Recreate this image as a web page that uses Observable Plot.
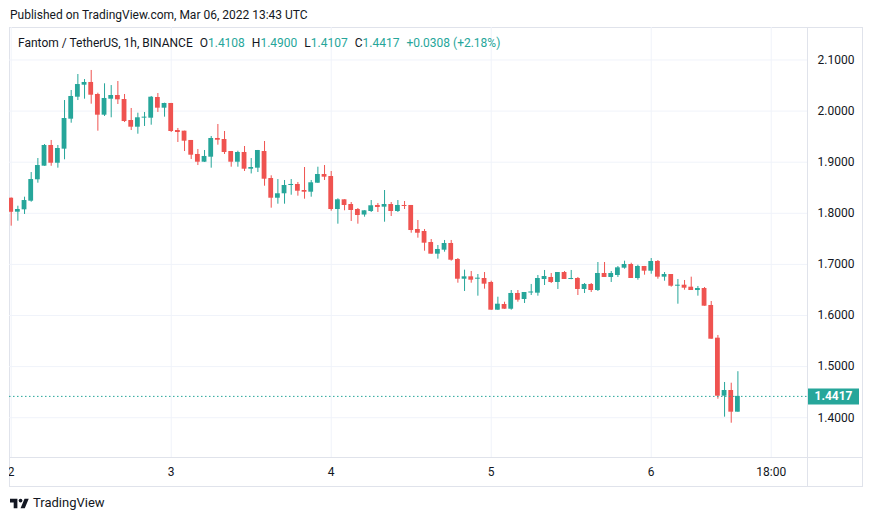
<!DOCTYPE html>
<html>
<head>
<meta charset="utf-8">
<script src="https://cdn.jsdelivr.net/npm/d3@7"></script>
<script src="https://cdn.jsdelivr.net/npm/@observablehq/plot@0.6"></script>
<style>
  html, body { margin: 0; padding: 0; background: #fff; }
  body { width: 873px; height: 521px; position: relative; overflow: hidden;
         font-family: Roboto, "Noto Sans", sans-serif; color: #131722; }
  .abs { position: absolute; }
  #pub { left: 10px; top: 7px; font-size: 12px; line-height: 16px; white-space: nowrap; }
  #frame { left: 9px; top: 27px; width: 854px; height: 460px; box-sizing: border-box; border: 1px solid #e0e3eb; }
  #legend { left: 18px; top: 35px; font-size: 12px; line-height: 16px; white-space: nowrap; }
  #legend .v { color: #26a69a; }
  #legend .k { margin-left: 7px; }
  #chart { left: 9px; top: 27px; }
  #chart svg { overflow: hidden; }
  #hline { left: 9px; top: 457px; width: 853px; height: 1px; background: #e0e3eb; }
  #vline { left: 807px; top: 27px; width: 1px; height: 459px; background: #e0e3eb; }
  #foot { left: 10px; top: 495px; font-size: 13px; line-height: 16px; white-space: nowrap; display: flex; align-items: center; }
  #foot svg { margin-right: 4px; }
</style>
</head>
<body>
<div id="pub" class="abs">Published on TradingView.com, Mar 06, 2022 13:43 UTC</div>
<div id="frame" class="abs"></div>
<div id="chart" class="abs"></div>
<div id="hline" class="abs"></div>
<div id="vline" class="abs"></div>
<div id="legend" class="abs"></div>
<div id="foot" class="abs"><svg width="19" height="13" viewBox="0 2 36 22"><path d="M14 22H7V11H0V4h14v18zM28 22h-8l7.5-18h8L28 22z" fill="#131722"/><circle cx="20" cy="7.5" r="3.5" fill="#131722"/></svg>TradingView</div>
<script>
// ---- Data: FTM/USDT 1h candles, Mar 2 00:00 UTC .. Mar 6 13:00 UTC ----
const symbolTitle = "Fantom / TetherUS, 1h, BINANCE";
const startHour = Date.UTC(2022, 2, 2, 0);
const open = [
  1.8295,1.8022,1.8068,1.8237,1.8656,1.8922,1.9327,1.8980,1.9255,1.9842,
  2.0272,2.0507,2.0560,2.0325,1.9920,2.0233,2.0305,2.0227,1.9816,1.9685,
  1.9862,1.9861,2.0266,2.0057,2.0149,1.9620,1.9607,1.9425,1.9151,1.9000,
  1.9098,1.9464,1.9444,1.9209,1.9000,1.9190,1.8863,1.8883,1.9209,1.8681,
  1.8295,1.8382,1.8544,1.8564,1.8446,1.8413,1.8589,1.8759,1.8720,1.8074,
  1.8264,1.8172,1.8074,1.7966,1.8035,1.8153,1.8120,1.8172,1.8035,1.8153,
  1.8153,1.7683,1.7644,1.7428,1.7200,1.7278,1.7409,1.7096,1.6710,1.6757,
  1.6710,1.6724,1.6646,1.6104,1.6215,1.6123,1.6431,1.6313,1.6440,1.6437,
  1.6704,1.6744,1.6646,1.6841,1.6705,1.6724,1.6509,1.6607,1.6489,1.6822,
  1.6744,1.6783,1.6926,1.6998,1.6724,1.6959,1.6867,1.7057,1.6750,1.6802,
  1.6573,1.6593,1.6554,1.6489,1.6528,1.6196,1.5556,1.4421,1.4532,1.4108
];
const high = [
  1.8300,1.8139,1.8315,1.8798,1.9072,1.9346,1.9425,1.9327,2.0207,2.0403,
  2.0716,2.0618,2.0795,2.0350,2.0534,2.0500,2.0579,2.0325,2.0051,1.9959,
  1.9973,2.0286,2.0344,2.0155,2.0150,1.9660,1.9607,1.9425,1.9249,1.9229,
  1.9503,1.9738,1.9601,1.9210,1.9215,1.9307,1.9072,1.9230,1.9405,1.8734,
  1.8661,1.8642,1.8661,1.8603,1.8896,1.8642,1.8902,1.8935,1.8818,1.8284,
  1.8264,1.8211,1.8094,1.8050,1.8250,1.8192,1.8446,1.8211,1.8250,1.8231,
  1.8153,1.7859,1.7683,1.7487,1.7370,1.7468,1.7468,1.7115,1.6887,1.6861,
  1.6802,1.6841,1.6671,1.6358,1.6260,1.6489,1.6489,1.6450,1.6607,1.6783,
  1.6881,1.6822,1.6841,1.6861,1.6881,1.6744,1.6626,1.6626,1.7037,1.7037,
  1.6861,1.6959,1.7063,1.7023,1.6984,1.6960,1.7115,1.7076,1.6841,1.6802,
  1.6705,1.6685,1.6750,1.6568,1.6548,1.6274,1.5609,1.4689,1.4675,1.4900
];
const low = [
  1.7748,1.7845,1.7977,1.8217,1.8589,1.8920,1.8920,1.8883,1.9047,1.9763,
  2.0207,2.0233,2.0135,1.9607,1.9894,1.9869,2.0129,1.9777,1.9620,1.9548,
  1.9699,1.9724,1.9973,1.9881,1.9581,1.9386,1.9209,1.9053,1.8935,1.8995,
  1.8883,1.9333,1.9151,1.8902,1.8902,1.8818,1.8770,1.8798,1.8530,1.8100,
  1.8178,1.8178,1.8354,1.8335,1.8276,1.8315,1.8585,1.8642,1.8041,1.7787,
  1.8049,1.7840,1.7787,1.7924,1.8016,1.8016,1.7826,1.7937,1.8016,1.8074,
  1.7610,1.7513,1.7258,1.7200,1.7102,1.7239,1.7063,1.6632,1.6470,1.6632,
  1.6378,1.6515,1.6100,1.6100,1.6120,1.6104,1.6260,1.6235,1.6391,1.6378,
  1.6587,1.6626,1.6509,1.6705,1.6700,1.6391,1.6430,1.6450,1.6470,1.6744,
  1.6646,1.6744,1.6906,1.6724,1.6691,1.6789,1.6808,1.6710,1.6671,1.6554,
  1.6221,1.6495,1.6489,1.6378,1.6182,1.5536,1.4362,1.4010,1.3892,1.4107
];
const close = [
  1.8020,1.8074,1.8250,1.8661,1.8935,1.9327,1.8980,1.9268,1.9855,2.0286,
  2.0520,2.0560,2.0311,1.9920,2.0247,2.0305,2.0221,1.9796,1.9685,1.9869,
  1.9882,2.0272,2.0057,2.0149,1.9601,1.9581,1.9411,1.9137,1.9000,1.9112,
  1.9464,1.9430,1.9190,1.9000,1.9190,1.8863,1.8896,1.9229,1.8667,1.8295,
  1.8382,1.8544,1.8564,1.8432,1.8413,1.8597,1.8759,1.8707,1.8074,1.8264,
  1.8153,1.8055,1.7957,1.8049,1.8147,1.8114,1.8172,1.8035,1.8153,1.8133,
  1.7663,1.7610,1.7415,1.7200,1.7292,1.7409,1.7082,1.6710,1.6757,1.6691,
  1.6730,1.6613,1.6104,1.6221,1.6123,1.6431,1.6299,1.6450,1.6460,1.6724,
  1.6763,1.6646,1.6841,1.6705,1.6724,1.6509,1.6607,1.6489,1.6822,1.6744,
  1.6822,1.6933,1.6998,1.6724,1.6959,1.6867,1.7057,1.6750,1.6802,1.6573,
  1.6593,1.6534,1.6489,1.6528,1.6182,1.5536,1.4421,1.4532,1.4108,1.4417
];
const yTickValues = [1.4, 1.5, 1.6, 1.7, 1.8, 1.9, 2.0, 2.1];
const xTickValues = [
  new Date(Date.UTC(2022, 2, 2)), new Date(Date.UTC(2022, 2, 3)),
  new Date(Date.UTC(2022, 2, 4)), new Date(Date.UTC(2022, 2, 5)),
  new Date(Date.UTC(2022, 2, 6)), new Date(Date.UTC(2022, 2, 6, 18))
];
const legendValues = {O: "1.4108", H: "1.4900", L: "1.4107", C: "1.4417", change: "+0.0308 (+2.18%)"};

// ---- Build ----
const UP = "#26a69a", DOWN = "#ef5350", GRID = "#f0f3fa";
const HOUR = 3600e3;
const candles = open.map((o, i) => ({
  t: new Date(startHour + i * HOUR), o, h: high[i], l: low[i], c: close[i]
}));
const ups = candles.filter(d => d.c >= d.o);
const downs = candles.filter(d => d.c < d.o);
const last = candles[candles.length - 1];

// visible window of the pane
const xDomain = [new Date(startHour - 0.255 * HOUR), new Date(startHour + 119.44 * HOUR)];
const yDomain = [1.3221, 2.1636];
const half = 0.36 * HOUR;

const rectSymbol = { draw(ctx) { ctx.rect(-25.5, -8, 51, 16); } };

const chart = Plot.plot({
  width: 853,
  height: 459,
  marginLeft: 0,
  marginRight: 55,
  marginTop: 0,
  marginBottom: 29,
  style: { fontFamily: 'Roboto, "Noto Sans", sans-serif', fontSize: "12px", color: "#131722", background: "transparent", overflow: "hidden" },
  x: {
    type: "utc", domain: xDomain, axis: "bottom", ticks: xTickValues,
    tickFormat: d => d.getUTCHours() === 0 ? String(d.getUTCDate()) : d3.utcFormat("%H:%M")(d),
    tickSize: 0, tickPadding: 10, label: null
  },
  y: {
    domain: yDomain, axis: "right", ticks: yTickValues, tickFormat: ".4f",
    tickSize: 0, tickPadding: 10, label: null
  },
  marks: [
    Plot.ruleY(yTickValues, { stroke: GRID }),
    Plot.ruleX(xTickValues, { stroke: GRID }),
    Plot.ruleX(ups, { x: "t", y1: "l", y2: "h", stroke: UP, clip: true }),
    Plot.ruleX(downs, { x: "t", y1: "l", y2: "h", stroke: DOWN, clip: true }),
    Plot.rect(ups, { x1: d => new Date(+d.t - half), x2: d => new Date(+d.t + half), y1: "o", y2: "c", fill: UP, clip: true }),
    Plot.rect(downs, { x1: d => new Date(+d.t - half), x2: d => new Date(+d.t + half), y1: "o", y2: "c", fill: DOWN, clip: true }),
    Plot.ruleY([last.c], { stroke: UP, strokeDasharray: "1.5,2.5" }),
    Plot.dot([last], { x: () => xDomain[1], y: "c", dx: 26, symbol: rectSymbol, fill: UP, stroke: null }),
    Plot.text([last], { x: () => xDomain[1], y: "c", dx: 26, text: d => d.c.toFixed(4), fill: "white", fontWeight: "bold", fontSize: 12 })
  ]
});
document.getElementById("chart").appendChild(chart);

// legend
const lg = document.getElementById("legend");
lg.innerHTML = `<span>${symbolTitle}</span>` +
  ["O","H","L","C"].map(k => `<span class="k">${k}<span class="v">${legendValues[k]}</span></span>`).join("") +
  `<span class="k v">${legendValues.change}</span>`;
</script>
</body>
</html>
